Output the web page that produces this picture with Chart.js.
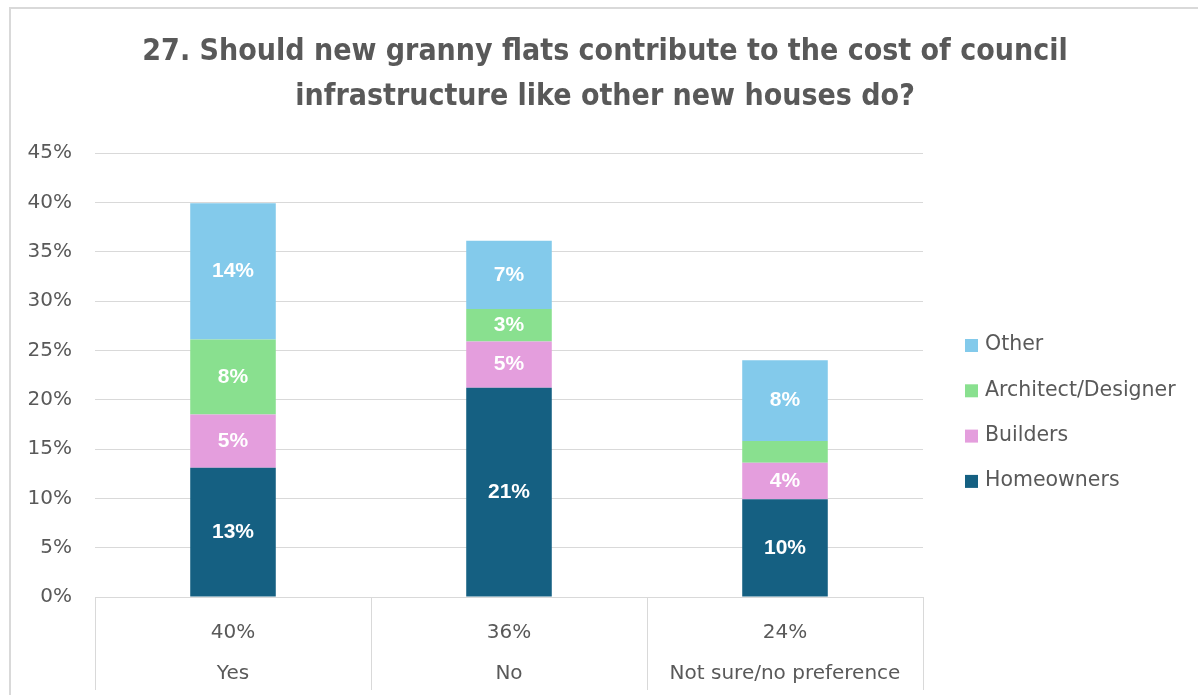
<!DOCTYPE html>
<html>
<head>
<meta charset="utf-8">
<script src="https://cdn.jsdelivr.net/npm/chart.js@4.4.1/dist/chart.umd.min.js"></script>
<style>
  html, body { margin: 0; padding: 0; background: #fff; overflow: hidden; }
  #frame { position: absolute; left: 9px; top: 7px; width: 1400px; height: 900px; border: 2px solid #d9d9d9; }
  #wrap { position: absolute; left: 0; top: 0; width: 1198px; height: 695px; }
</style>
</head>
<body>
<div id="frame"></div>
<div id="wrap"><canvas id="chart" width="1198" height="695"></canvas></div>
<script>
// Survey answers, share of all respondents (%)
const categories = ['Yes', 'No', 'Not sure/no preference'];
const homeowners = [13.1, 21.2, 9.9];
const builders = [5.4, 4.7, 3.7];
const architects = [7.6, 3.3, 2.2];
const other = [13.8, 6.9, 8.2];
const yTickValues = [0, 5, 10, 15, 20, 25, 30, 35, 40, 45];

const titleLines = [
  '27. Should new granny flats contribute to the cost of council',
  'infrastructure like other new houses do?'
];

const textColor = '#595959';
const gridColor = '#d9d9d9';

// totals row under the bars
const totals = categories.map((c, i) =>
  homeowners[i] + builders[i] + architects[i] + other[i]);
const axisLabels = categories.map((c, i) => [Math.round(totals[i]) + '%', c]);

Chart.defaults.font.family = '"DejaVu Sans", sans-serif';
Chart.defaults.color = textColor;

// white value labels inside each segment (tiny ones are skipped)
const segmentLabels = {
  id: 'segmentLabels',
  afterDatasetsDraw(chart) {
    const ctx = chart.ctx;
    ctx.save();
    ctx.font = 'bold 21px "Liberation Sans", Arial, sans-serif';
    ctx.fillStyle = '#ffffff';
    ctx.textAlign = 'center';
    ctx.textBaseline = 'middle';
    chart.data.datasets.forEach((ds, i) => {
      chart.getDatasetMeta(i).data.forEach((bar, j) => {
        const v = ds.data[j];
        if (v < 3) return;
        ctx.fillText(Math.round(v) + '%', bar.x, (bar.y + bar.base) / 2);
      });
    });
    ctx.restore();
  }
};

// legend on the right, top series first
const sideLegend = {
  id: 'sideLegend',
  afterDraw(chart) {
    const ctx = chart.ctx;
    const area = chart.chartArea;
    const left = area.right + 42;
    let y = area.top + 192;
    ctx.save();
    ctx.font = '20.5px "DejaVu Sans", sans-serif';
    ctx.textBaseline = 'middle';
    ctx.textAlign = 'left';
    chart.data.datasets.slice().reverse().forEach(ds => {
      ctx.fillStyle = ds.backgroundColor;
      ctx.fillRect(left, y - 6, 13, 13);
      ctx.fillStyle = textColor;
      ctx.fillText(ds.label, left + 20, y);
      y += 45.3;
    });
    ctx.restore();
  }
};

new Chart(document.getElementById('chart'), {
  type: 'bar',
  data: {
    labels: axisLabels,
    datasets: [
      { label: 'Homeowners', data: homeowners, backgroundColor: '#156082' },
      { label: 'Builders', data: builders, backgroundColor: '#E49EDD' },
      { label: 'Architect/Designer', data: architects, backgroundColor: '#89E08F' },
      { label: 'Other', data: other, backgroundColor: '#83CAEB' }
    ]
  },
  options: {
    responsive: false,
    animation: false,
    layout: { padding: { left: 12, right: 0, top: 0, bottom: 0 } },
    datasets: {
      bar: { barPercentage: 0.31, categoryPercentage: 1, borderWidth: 0 }
    },
    scales: {
      x: {
        stacked: true,
        border: { display: false },
        grid: { offset: true, drawOnChartArea: false, drawTicks: true, tickLength: 93, color: gridColor, lineWidth: 1 },
        ticks: {
          padding: -78,
          maxRotation: 0,
          autoSkip: false,
          color: textColor,
          font: { size: 20, lineHeight: 2.05 }
        },
        afterFit: s => { s.height = 98; }
      },
      y: {
        stacked: true,
        min: 0,
        max: 45,
        border: { display: false },
        grid: { color: gridColor, lineWidth: 1, drawTicks: false },
        ticks: {
          padding: 23,
          color: textColor,
          font: { size: 20 },
          callback: v => v + '%'
        },
        afterBuildTicks: s => { s.ticks = yTickValues.map(v => ({ value: v })); },
        afterFit: s => { s.width = 83; }
      },
      // empty column that keeps room for the legend
      legendSpace: {
        position: 'right',
        display: true,
        grid: { display: false },
        ticks: { display: false },
        border: { display: false },
        afterFit: s => { s.width = 275; }
      }
    },
    plugins: {
      legend: { display: false },
      tooltip: { enabled: false },
      title: {
        display: true,
        text: titleLines,
        color: textColor,
        font: { family: '"DejaVu Sans Condensed", sans-serif', size: 30, weight: 'bold', lineHeight: 1.5 },
        padding: { top: 30, bottom: 33 }
      }
    }
  },
  plugins: [segmentLabels, sideLegend]
});
</script>
</body>
</html>
